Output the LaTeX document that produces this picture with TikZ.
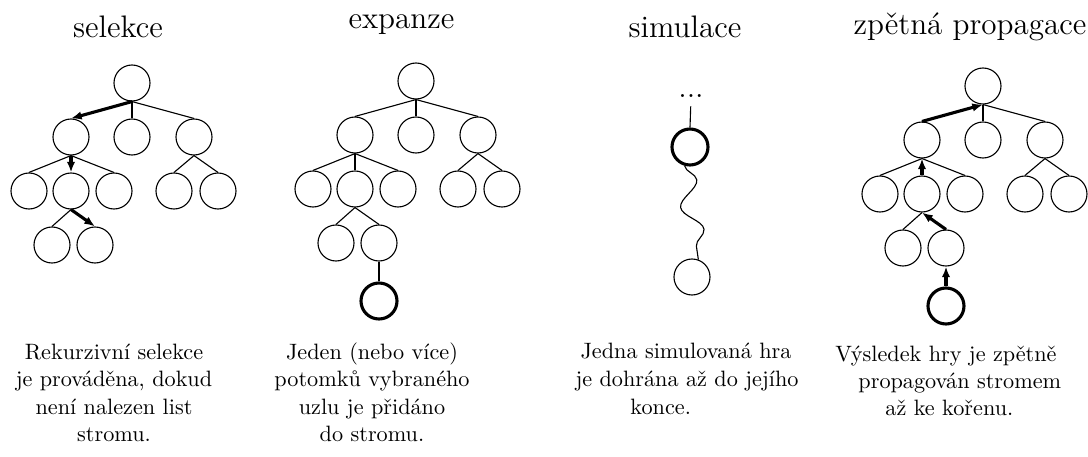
\documentclass[tikz,border=0pt]{standalone}
\usepackage{fontspec}
\usetikzlibrary{arrows.meta,decorations.pathmorphing}

% one search tree: nodes plus the edges that are not on the selected path
\newcommand\mctsTree[1]{%
  \node[vtx] (#1r)  at (132,83)  {};
  \node[vtx] (#1a)  at (71,137)  {};
  \node[vtx] (#1b)  at (132,137) {};
  \node[vtx] (#1c)  at (194,137) {};
  \node[vtx] (#1a1) at (29,191)  {};
  \node[vtx] (#1a2) at (71,191)  {};
  \node[vtx] (#1a3) at (114,191) {};
  \node[vtx] (#1c1) at (174,191) {};
  \node[vtx] (#1c2) at (218,191) {};
  \node[vtx] (#1d1) at (52,245)  {};
  \node[vtx] (#1d2) at (95,245)  {};
  \draw[edge] (#1r.south) -- (#1b.north);
  \draw[edge] (#1r.south) -- (#1c.north);
  \draw[edge] (#1a.south) -- (#1a1.north);
  \draw[edge] (#1a.south) -- (#1a3.north);
  \draw[edge] (#1c.south) -- (#1c1.north);
  \draw[edge] (#1c.south) -- (#1c2.north);
  \draw[edge] (#1a2.south) -- (#1d1.north);
}
% the selected path root -> leaf, in a given style
\newcommand\mctsPath[2]{%
  \draw[#2] (#1r.south) -- (#1a.north);
  \draw[#2] (#1a.south) -- (#1a2.north);
  \draw[#2] (#1a2.south) -- (#1d2.north);
}

\begin{document}
\begin{tikzpicture}[x=0.45pt,y=-0.45pt,
  vtx/.style={circle,draw,minimum size=16.2pt,inner sep=0pt,line width=0.5pt},
  newvtx/.style={vtx,line width=1.4pt},
  edge/.style={line width=0.5pt},
  fwd/.style={line width=1.4pt,-{Latex[length=4.8pt,width=3.8pt]}},
  bwd/.style={line width=1.4pt,{Latex[length=4.8pt,width=3.8pt]}-},
  ttl/.style={anchor=base,inner sep=0pt,font=\fontsize{14}{17}\selectfont},
  txt/.style={anchor=base,inner sep=0pt,font=\fontsize{10}{12}\selectfont},
  txtl/.style={txt,anchor=base west}]
\useasboundingbox (0,0) rectangle (1088,457);

% ---- selekce ----
\node[ttl] (t1) at (118,37) {selekce};
\mctsTree{s}
\mctsPath{s}{fwd}
\node[txt] (s1) at (114,359)   {Rekurzivní selekce};
\node[txt] (s2) at (114,386.5) {je prováděna, dokud};
\node[txt] (s3) at (114,414)   {není nalezen list};
\node[txt] (s4) at (114,441.5) {stromu.};

% ---- expanze ----
\node[ttl] (t2) at (401.5,29) {expanze};
\begin{scope}[shift={(284,-2)}]
  \mctsTree{e}
  \mctsPath{e}{edge}
  \node[newvtx] (en) at (95,303) {};
  \draw[edge] (ed2.south) -- (en.north);
\end{scope}
\node[txt] (e1) at (372,359)   {Jeden (nebo více)};
\node[txt] (e2) at (372,386.5) {potomků vybraného};
\node[txt] (e3) at (372,414)   {uzlu je přidáno};
\node[txt] (e4) at (372,441.5) {do stromu.};

% ---- simulace ----
\node[ttl] (t3) at (685,37) {simulace};
\node[anchor=base,inner sep=0pt,font=\fontsize{14}{17}\selectfont] (dots) at (691,97) {...};
\node[newvtx] (m1) at (690,147) {};
\node[vtx] (m2) at (692,277) {};
\draw[edge,shorten <=4pt] (dots.south) -- (m1.north);
\draw[edge,decorate,decoration={snake,amplitude=4.5pt,segment length=22.5pt}]
  (m1.254) -- (m2.70);
\node[txt] (m3) at (686,358) {Jedna simulovaná hra};
\node[txt] (m4) at (687,386) {je dohrána až do jejího};
\node[txtl] (m5) at (630,414) {konce.};

% ---- zpetna propagace ----
\node[ttl] (t4) at (970,35) {zpětná propagace};
\begin{scope}[shift={(851,3)}]
  \mctsTree{p}
  \mctsPath{p}{bwd}
  \node[newvtx] (pn) at (95,303) {};
  \draw[bwd] (pd2.south) -- (pn.north);
\end{scope}
\node[txtl] (p1) at (835,361) {Výsledek hry je zpětně};
\node[txtl] (p2) at (858,388) {propagován stromem};
\node[txtl] (p3) at (885,415) {až ke kořenu.};
\end{tikzpicture}
\end{document}
